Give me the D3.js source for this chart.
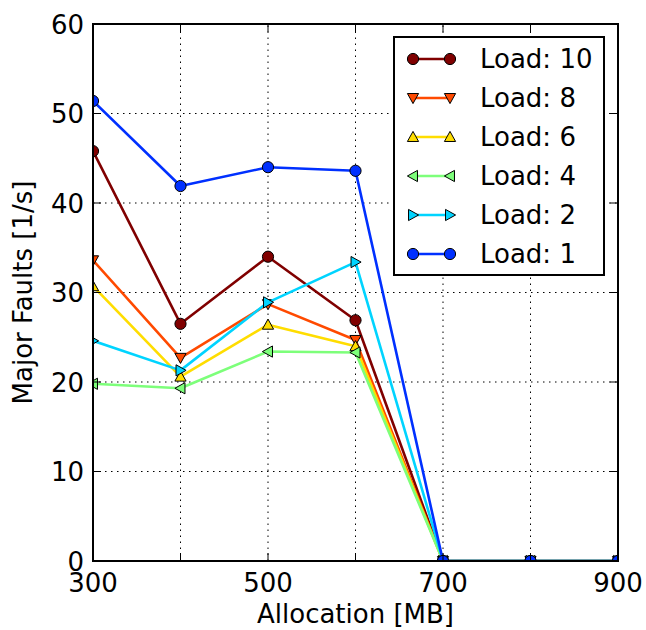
<!DOCTYPE html>
<html>
<head>
<meta charset="utf-8">
<script src="https://cdn.jsdelivr.net/npm/d3@7"></script>
<style>
  html, body { margin: 0; padding: 0; background: #fff; }
  svg { display: block; }
  text { font-family: "DejaVu Sans", sans-serif; fill: #000; }
</style>
</head>
<body>
<svg id="chart" width="646" height="630"></svg>
<script>
// Allocation sizes (MB) on the x axis
const allocation = [300, 400, 500, 600, 700, 800, 900];

// Major faults per second for each load level
const load10 = [45.8, 26.5, 34.0, 26.9, 0, 0, 0];
const load8  = [33.6, 22.7, 28.7, 24.7, 0, 0, 0];
const load6  = [30.7, 20.6, 26.4, 24.0, 0, 0, 0];
const load4  = [19.8, 19.3, 23.4, 23.3, 0, 0, 0];
const load2  = [24.6, 21.3, 28.9, 33.4, 0, 0, 0];
const load1  = [51.4, 41.9, 44.0, 43.6, 0, 0, 0];

const seriesNames = ["Load: 10", "Load: 8", "Load: 6", "Load: 4", "Load: 2", "Load: 1"];
const seriesValues = [load10, load8, load6, load4, load2, load1];
const seriesColors = ["#800000", "#ff4a00", "#ffdd00", "#7dff7a", "#00d4ff", "#0030ff"];
const seriesMarkers = ["circle", "tdown", "tup", "tleft", "tright", "circle"];

const xTicks = [300, 500, 700, 900];
const xGrid = [300, 400, 500, 600, 700, 800, 900];
const yTicks = [0, 10, 20, 30, 40, 50, 60];

const margin = { left: 93, right: 28, top: 24, bottom: 69 };
const W = 646, H = 630;
const svg = d3.select("#chart");

const x = d3.scaleLinear().domain([300, 900]).range([margin.left, W - margin.right]);
const y = d3.scaleLinear().domain([0, 60]).range([H - margin.bottom, margin.top]);

const x0 = x.range()[0], x1 = x.range()[1];
const y0 = y.range()[0], y1 = y.range()[1];

svg.append("defs").append("clipPath").attr("id", "plotClip")
  .append("rect").attr("x", x0).attr("y", y1).attr("width", x1 - x0).attr("height", y0 - y1);

// dotted grid
const grid = svg.append("g");
xGrid.forEach(v => {
  grid.append("line").attr("x1", x(v)).attr("x2", x(v)).attr("y1", y0).attr("y2", y1)
    .attr("stroke", "#000").attr("stroke-width", 1).attr("stroke-dasharray", "1.5,4.5");
});
yTicks.forEach(v => {
  grid.append("line").attr("x1", x0).attr("x2", x1).attr("y1", y(v)).attr("y2", y(v))
    .attr("stroke", "#000").attr("stroke-width", 1).attr("stroke-dasharray", "1.5,4.5");
});

// marker path generator
function markerPath(type, s) {
  switch (type) {
    case "circle": return d3.symbol(d3.symbolCircle, Math.PI * s * s)();
    case "tup":    return `M0,${-s}L${s},${s * 0.8}L${-s},${s * 0.8}Z`;
    case "tdown":  return `M0,${s}L${s},${-s * 0.8}L${-s},${-s * 0.8}Z`;
    case "tleft":  return `M${-s},0L${s * 0.8},${-s}L${s * 0.8},${s}Z`;
    case "tright": return `M${s},0L${-s * 0.8},${-s}L${-s * 0.8},${s}Z`;
  }
}
const markSize = 5.6;

const plot = svg.append("g").attr("clip-path", "url(#plotClip)");
const line = d3.line().x((d, i) => x(allocation[i])).y(d => y(d));

seriesValues.forEach((vals, k) => {
  const g = plot.append("g");
  g.append("path").datum(vals).attr("d", line)
    .attr("fill", "none").attr("stroke", seriesColors[k]).attr("stroke-width", 2.6)
    .attr("stroke-linejoin", "round");
  g.selectAll("path.m").data(vals).join("path").attr("class", "m")
    .attr("transform", (d, i) => `translate(${x(allocation[i])},${y(d)})`)
    .attr("d", markerPath(seriesMarkers[k], markSize))
    .attr("fill", seriesColors[k]).attr("stroke", "#000").attr("stroke-width", 1);
});

// frame
svg.append("rect").attr("x", x0).attr("y", y1).attr("width", x1 - x0).attr("height", y0 - y1)
  .attr("fill", "none").attr("stroke", "#000").attr("stroke-width", 2);

// inward ticks on all four sides
const tk = svg.append("g").attr("stroke", "#000").attr("stroke-width", 1);
const tickLen = 8;
xGrid.forEach(v => {
  tk.append("line").attr("x1", x(v)).attr("x2", x(v)).attr("y1", y0).attr("y2", y0 - tickLen);
  tk.append("line").attr("x1", x(v)).attr("x2", x(v)).attr("y1", y1).attr("y2", y1 + tickLen);
});
yTicks.forEach(v => {
  tk.append("line").attr("x1", x0).attr("x2", x0 + tickLen).attr("y1", y(v)).attr("y2", y(v));
  tk.append("line").attr("x1", x1).attr("x2", x1 - tickLen).attr("y1", y(v)).attr("y2", y(v));
});

// tick labels
const fs = 26;
xTicks.forEach(v => {
  svg.append("text").attr("x", x(v)).attr("y", y0 + 31).attr("text-anchor", "middle")
    .attr("font-size", fs).text(v);
});
yTicks.forEach(v => {
  svg.append("text").attr("x", x0 - 9).attr("y", y(v) + 9.5).attr("text-anchor", "end")
    .attr("font-size", fs).text(v);
});

// axis titles
svg.append("text").attr("x", (x0 + x1) / 2).attr("y", 623).attr("text-anchor", "middle")
  .attr("font-size", fs).text("Allocation [MB]");
svg.append("text").attr("transform", `translate(32,${(y0 + y1) / 2}) rotate(-90)`)
  .attr("text-anchor", "middle").attr("font-size", fs).text("Major Faults [1/s]");

// legend
const lg = svg.append("g");
lg.append("rect").attr("x", 394).attr("y", 37).attr("width", 210).attr("height", 238)
  .attr("fill", "#fff").attr("stroke", "#000").attr("stroke-width", 2);
seriesNames.forEach((name, k) => {
  const ly = 59 + k * 39;
  lg.append("line").attr("x1", 413).attr("x2", 450).attr("y1", ly).attr("y2", ly)
    .attr("stroke", seriesColors[k]).attr("stroke-width", 2.6);
  [413, 450].forEach(mx => {
    lg.append("path").attr("transform", `translate(${mx},${ly})`)
      .attr("d", markerPath(seriesMarkers[k], markSize))
      .attr("fill", seriesColors[k]).attr("stroke", "#000").attr("stroke-width", 1);
  });
  lg.append("text").attr("x", 480).attr("y", ly + 9).attr("font-size", fs).text(name);
});
</script>
</body>
</html>
